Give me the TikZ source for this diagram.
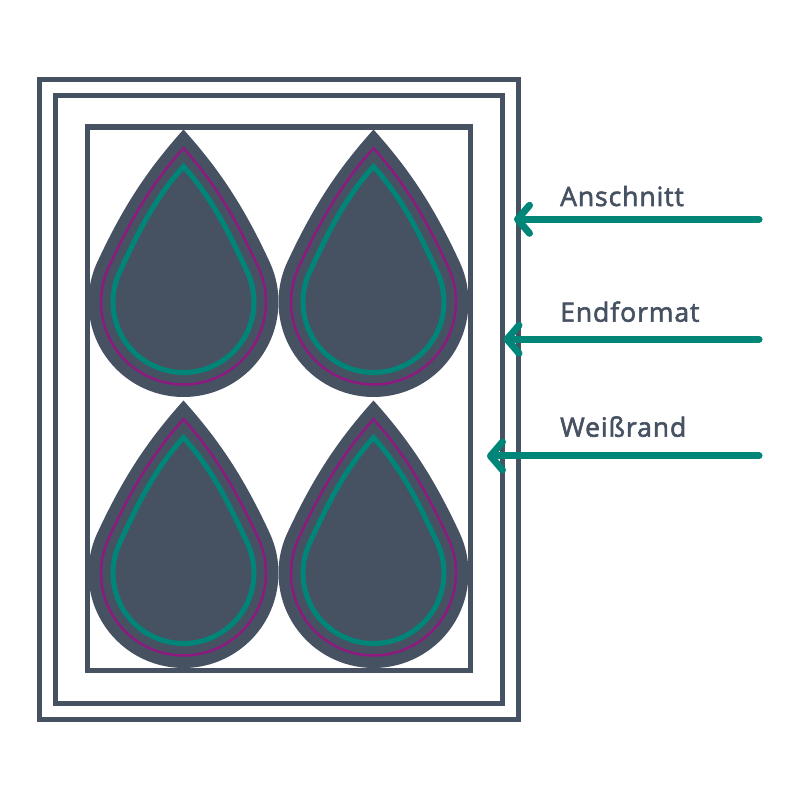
\documentclass[tikz,border=0pt]{standalone}
\usepackage{fontspec}
\setmainfont{Open Sans}
\newfontfamily\labelfont{Open Sans}[FakeBold=2.2,LetterSpace=3.5]
\usetikzlibrary{arrows.meta}
\usetikzlibrary{positioning}
\definecolor{slate}{RGB}{70,81,98}
\definecolor{teal}{RGB}{0,134,120}
\definecolor{plum}{RGB}{142,26,128}
\tikzstyle{frame} = [draw=slate,line width=5.5]
\tikzstyle{label} = [anchor=base west,inner sep=0,text=slate,font=\labelfont\fontsize{26.5}{32}\selectfont]
\tikzstyle{connector} = [draw=teal,line width=7,line cap=round,-{Straight Barb[round,length=12,width=28]}]
% drop: round bottom of radius #1, tip #2 above the centre, slightly bulging sides
\newcommand\droppath[2]{(270:#1) arc[start angle=270,end angle=385,radius=#1]
  .. controls +({-0.267*#1},{0.573*#1}) and +({0.213*#2},{-0.237*#2}) .. (0,#2)
  .. controls +({-0.213*#2},{-0.237*#2}) and +({0.267*#1},{0.573*#1}) .. (155:#1)
  arc[start angle=155,end angle=270,radius=#1] -- cycle}
\tikzset{droplet/.pic={
  \fill[slate] \droppath{95}{172.5};
  \draw[plum,line width=2.5] \droppath{82.5}{153.8};
  \draw[teal,line width=5] \droppath{70.5}{135.5};
}}

\begin{document}
\begin{tikzpicture}[x=1pt,y=1pt]
  \useasboundingbox (0,0) rectangle (800,800);

  % the three frames
  \draw[frame] (39.5,80.5) rectangle (518.5,720.5);
  \draw[frame] (55.5,96.5) rectangle (502.5,704.5);
  \draw[frame] (87.5,129.5) rectangle (470.5,673);

  % the four drops
  \pic at (183.5,498) {droplet};
  \pic at (373.5,498) {droplet};
  \pic at (183.5,227) {droplet};
  \pic at (373.5,227) {droplet};

  % labels
  \node[label] (bleed) at (560,594) {Anschnitt};
  \node[label] (trim) at (560,478.3) {Endformat};
  \node[label] (white) at (560,363.3) {Weißrand};

  \coordinate (bleedstart) at (759,580.7);
  \coordinate (bleedend) at (514,580.7);
  \coordinate (trimstart) at (759,460.7);
  \coordinate (trimend) at (503.5,460.7);
  \coordinate (whitestart) at (759,344);
  \coordinate (whiteend) at (487,344);

% now link the labels to the frames
\draw [connector] (bleedstart) -- (bleedend);
\draw [connector] (trimstart) -- (trimend);
\draw [connector] (whitestart) -- (whiteend);
\end{tikzpicture}
\end{document}
